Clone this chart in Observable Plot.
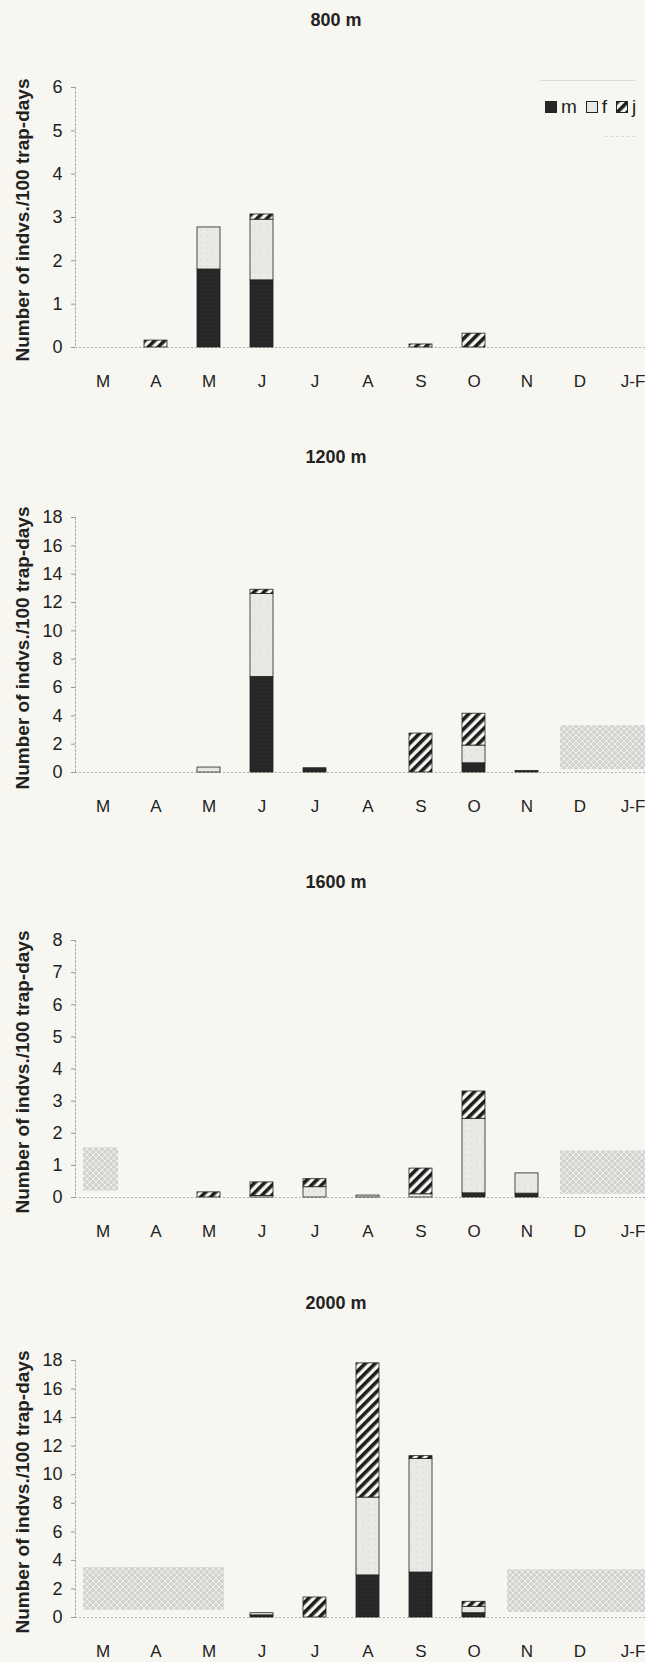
<!DOCTYPE html>
<html><head><meta charset="utf-8">
<script src="https://cdn.jsdelivr.net/npm/d3@7"></script>
<script src="https://cdn.jsdelivr.net/npm/@observablehq/plot@0.6"></script>
<style>
html,body{margin:0;padding:0;background:#f7f6f0;overflow:hidden;}
#page{position:relative;width:645px;height:1662px;font-family:"Liberation Sans",Arial,sans-serif;color:#222;overflow:hidden;}
.title{position:absolute;left:0;width:672px;text-align:center;font-weight:bold;font-size:18px;line-height:22px;}
.ylab{position:absolute;width:400px;text-align:center;font-weight:bold;font-size:19px;line-height:22px;white-space:nowrap;transform:rotate(-90deg);transform-origin:center center;}
.panel{position:absolute;left:0;}
.legend{position:absolute;font-size:19px;line-height:22px;display:flex;align-items:center;}
.legend span{margin-right:9px;display:inline-flex;align-items:center;}
.legend svg{margin-right:4px;}
</style></head>
<body>
<svg width="0" height="0" style="position:absolute">
<defs>
<pattern id="pm" patternUnits="userSpaceOnUse" width="4" height="4">
  <rect width="4" height="4" fill="#262626"/>
  <circle cx="1" cy="1" r="0.6" fill="#3c3c3c"/>
</pattern>
<pattern id="pf" patternUnits="userSpaceOnUse" width="6" height="6">
  <rect width="6" height="6" fill="#e9e9e5"/>
  <circle cx="3" cy="3" r="0.5" fill="#c4c4c0"/>
</pattern>
<pattern id="pj" patternUnits="userSpaceOnUse" width="7" height="7" patternTransform="rotate(45)">
  <rect width="7" height="7" fill="#f6f6f2"/>
  <rect width="3.6" height="7" fill="#1e1e1e"/>
</pattern>
<pattern id="px" patternUnits="userSpaceOnUse" width="6" height="6">
  <rect width="6" height="6" fill="#d2d2cf"/>
  <path d="M0,0 L6,6 M6,0 L0,6" stroke="#efefeb" stroke-width="1"/>
</pattern>
</defs>
</svg>
<div id="page"></div>
<script>
// ---- data ----
const monthKeys = ["Mar","Apr","May","Jun","Jul","Aug","Sep","Oct","Nov","Dec","JanFeb"];
const monthLabels = ["M","A","M","J","J","A","S","O","N","D","J-F"];
const classes = ["m","f","j"];
const sites = ["800 m","1200 m","1600 m","2000 m"];
const yMax = [6, 18, 8, 18];
const yTicks = [
  [0,1,2,3,4,5,6],
  [0,2,4,6,8,10,12,14,16,18],
  [0,1,2,3,4,5,6,7,8],
  [0,2,4,6,8,10,12,14,16,18]
];
const yLabel = "Number of indvs./100 trap-days";

// males (m)
const m800  = [0, 0,    1.8,  1.55, 0,    0,    0,    0,    0,    0, 0];
const m1200 = [0, 0,    0,    6.75, 0.3,  0,    0,    0.65, 0.1,  0, 0];
const m1600 = [0, 0,    0,    0,    0,    0,    0,    0.13, 0.12, 0, 0];
const m2000 = [0, 0,    0,    0.15, 0,    2.95, 3.15, 0.3,  0,    0, 0];
// females (f)
const f800  = [0, 0,    0.97, 1.4,  0,    0,    0,    0,    0,    0, 0];
const f1200 = [0, 0,    0.35, 5.85, 0,    0,    0,    1.25, 0,    0, 0];
const f1600 = [0, 0,    0,    0.05, 0.32, 0.06, 0.1,  2.32, 0.63, 0, 0];
const f2000 = [0, 0,    0,    0.15, 0,    5.45, 7.95, 0.45, 0,    0, 0];
// juveniles (j)
const j800  = [0, 0.16, 0,    0.12, 0,    0,    0.07, 0.32, 0,    0, 0];
const j1200 = [0, 0,    0,    0.3,  0,    0,    2.75, 2.25, 0,    0, 0];
const j1600 = [0, 0,    0.16, 0.42, 0.25, 0,    0.8,  0.85, 0,    0, 0];
const j2000 = [0, 0,    0,    0,    1.4,  9.4,  0.2,  0.35, 0,    0, 0];

// months without sampling (shaded blocks)
const gapFrom = [[], ["Dec"], ["Mar","Dec"], ["Mar","Nov"]];
const gapTo   = [[], ["JanFeb"], ["Mar","JanFeb"], ["May","JanFeb"]];
const gapLow  = [[], [0.2], [0.2, 0.1], [0.5, 0.35]];
const gapHigh = [[], [3.3], [1.55, 1.45], [3.5, 3.35]];

const series = [[m800,m1200,m1600,m2000],[f800,f1200,f1600,f2000],[j800,j1200,j1600,j2000]];

// ---- layout ----
const titleY = [20, 457, 882, 1303];
const plotTop = [87, 517, 940, 1360];
const plotZero = [347, 772, 1197, 1617];
const fills = ["url(#pm)","url(#pf)","url(#pj)"];
const step = 53.1, x0 = 75.5;

const page = document.getElementById("page");

sites.forEach((site, s) => {
  const rows = [];
  monthKeys.forEach((k, i) => {
    classes.forEach((c, ci) => {
      const v = series[ci][s][i];
      if (v > 0) rows.push({month: k, cls: c, value: v});
    });
  });
  const gaps = gapFrom[s].map((f, i) => ({from: f, to: gapTo[s][i], low: gapLow[s][i], high: gapHigh[s][i]}));
  const marginTop = 10, marginBottom = 50;
  const h = plotZero[s] - plotTop[s];
  const chart = Plot.plot({
    width: 645,
    height: h + marginTop + marginBottom,
    marginLeft: 75, marginRight: 0, marginTop, marginBottom,
    style: {background: "transparent", fontFamily: "Liberation Sans, Arial, sans-serif", fontSize: "18px", color: "#222", overflow: "visible"},
    x: {type: "band", domain: monthKeys, range: [x0, x0 + 11 * step], paddingInner: 0.56, paddingOuter: 0.28, align: 0.5},
    y: {domain: [0, yMax[s]]},
    color: {type: "ordinal", domain: classes, range: fills},
    marks: [
      Plot.rect(gaps, {x1: "from", x2: "to", y1: "low", y2: "high", fill: "url(#px)", insetLeft: -8, insetRight: -4}),
      Plot.frame({anchor: "left", stroke: "#b0b0ab", strokeDasharray: "2,2"}),
      Plot.ruleY([0], {stroke: "#b0b0ab", strokeDasharray: "2,2"}),
      Plot.barY(rows, {x: "month", y: "value", fill: "cls", stroke: "#222", strokeWidth: 0.8}),
      Plot.axisY({ticks: yTicks[s], tickFormat: "d", tickSize: 4, tickPadding: 9, stroke: "#999", fontSize: 18, label: null}),
      Plot.axisX({tickSize: 0, tickPadding: 27, fontSize: 17, label: null,
                  tickFormat: k => monthLabels[monthKeys.indexOf(k)]})
    ]
  });
  chart.classList.add("panel");
  chart.style.top = (plotTop[s] - marginTop) + "px";
  chart.style.position = "absolute";
  page.appendChild(chart);

  const t = document.createElement("div");
  t.className = "title";
  t.textContent = site;
  t.style.top = (titleY[s] - 11) + "px";
  page.appendChild(t);

  const yl = document.createElement("div");
  yl.className = "ylab";
  yl.textContent = yLabel;
  yl.style.left = (23 - 200) + "px";
  yl.style.top = ((plotTop[s] + plotZero[s]) / 2 + 3 - 11) + "px";
  page.appendChild(yl);
});

// legend in first panel
const lg = document.createElement("div");
lg.className = "legend";
lg.style.left = "545px";
lg.style.top = "96px";
classes.forEach((c, i) => {
  const sp = document.createElement("span");
  sp.innerHTML = `<svg width="12" height="12"><rect x="0.5" y="0.5" width="11" height="11" fill="${fills[i]}" stroke="#222" stroke-width="1"/></svg>${c}`;
  lg.appendChild(sp);
});
page.appendChild(lg);
const lgTop = document.createElement("div");
lgTop.style.cssText = "position:absolute;left:540px;top:80px;width:95px;height:0;border-top:1px solid #dcdcd6;";
page.appendChild(lgTop);
const lgBot = document.createElement("div");
lgBot.style.cssText = "position:absolute;left:605px;top:136px;width:30px;height:0;border-top:1px dashed #dcdcd6;";
page.appendChild(lgBot);
</script>
</body></html>
